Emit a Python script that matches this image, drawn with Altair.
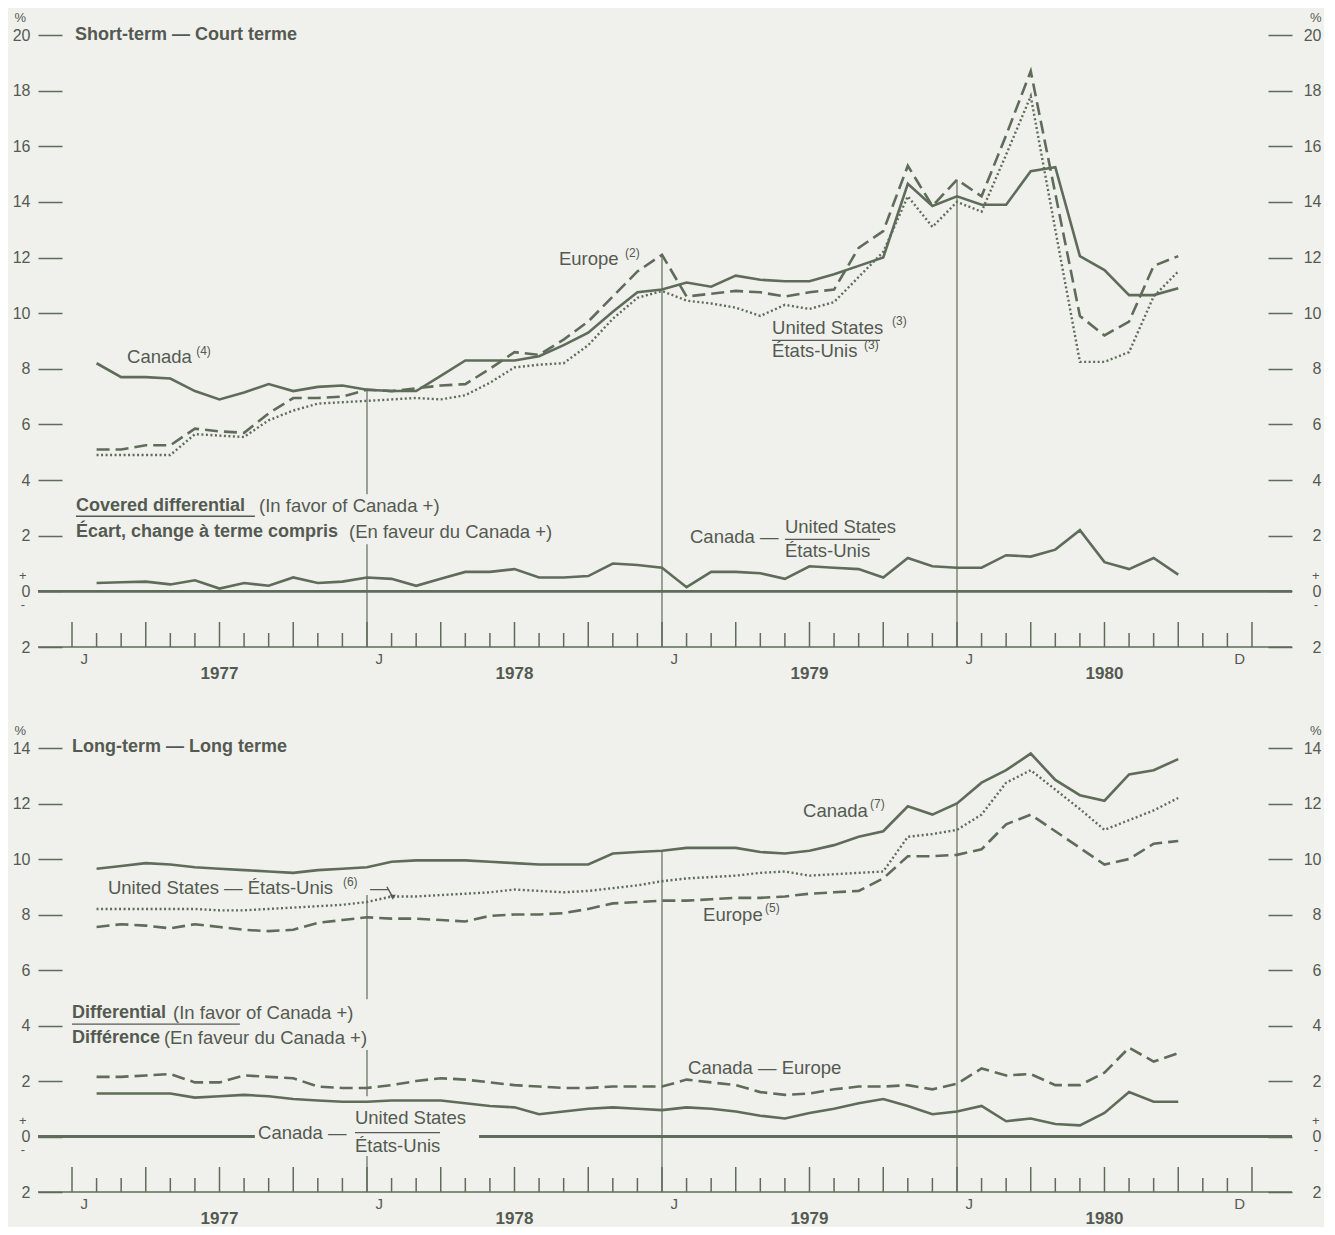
import altair as alt
import pandas as pd

FONT = "Liberation Sans"
LINE = "#5e6c59"
TXT = "#545a52"
BG = "#f0f1ec"

W = 1254
H_TOP = 612
H_BOT = 444
X_DOMAIN = [-1.383, 49.628]   # month index; 0 = start of Jan 1977

# ---------------- data (month-end values, m = 1 .. 45 : Jan 1977 .. Sep 1980) ----------------
months = list(range(1, 46))

st_canada = [8.2, 7.7, 7.7, 7.65, 7.2, 6.9, 7.15, 7.45, 7.2, 7.35, 7.4, 7.25,
             7.2, 7.2, 7.75, 8.3, 8.3, 8.3, 8.45, 8.85, 9.3, 10.05, 10.75, 10.85,
             11.1, 10.95, 11.35, 11.2, 11.15, 11.15, 11.4, 11.7, 12.0, 14.65, 13.85, 14.2,
             13.9, 13.9, 15.1, 15.25, 12.05, 11.55, 10.65, 10.65, 10.9]
st_europe = [5.1, 5.1, 5.25, 5.25, 5.85, 5.75, 5.7, 6.4, 6.95, 6.95, 7.0, 7.25,
             7.2, 7.3, 7.4, 7.45, 8.0, 8.6, 8.5, 9.05, 9.7, 10.6, 11.5, 12.1,
             10.6, 10.7, 10.8, 10.75, 10.6, 10.75, 10.85, 12.35, 12.95, 15.3, 13.85, 14.8,
             14.2, 16.4, 18.7, 14.3, 9.9, 9.2, 9.7, 11.7, 12.05]
st_us = [4.9, 4.9, 4.9, 4.9, 5.65, 5.6, 5.55, 6.15, 6.5, 6.75, 6.8, 6.85,
         6.9, 6.95, 6.9, 7.05, 7.5, 8.05, 8.15, 8.2, 8.85, 9.8, 10.55, 10.8,
         10.45, 10.35, 10.2, 9.9, 10.3, 10.15, 10.4, 11.3, 12.2, 14.2, 13.1, 14.0,
         13.65, 15.7, 17.8, 13.0, 8.25, 8.25, 8.6, 10.6, 11.5]
st_covered = [0.3, 0.33, 0.35, 0.25, 0.4, 0.1, 0.3, 0.2, 0.5, 0.3, 0.35, 0.5,
              0.45, 0.2, 0.45, 0.7, 0.7, 0.8, 0.5, 0.5, 0.55, 1.0, 0.95, 0.85,
              0.15, 0.7, 0.7, 0.65, 0.45, 0.9, 0.85, 0.8, 0.5, 1.2, 0.9, 0.85,
              0.85, 1.3, 1.25, 1.5, 2.2, 1.05, 0.8, 1.2, 0.6]

lt_canada = [9.65, 9.75, 9.85, 9.8, 9.7, 9.65, 9.6, 9.55, 9.5, 9.6, 9.65, 9.7,
             9.9, 9.95, 9.95, 9.95, 9.9, 9.85, 9.8, 9.8, 9.8, 10.2, 10.25, 10.3,
             10.4, 10.4, 10.4, 10.25, 10.2, 10.3, 10.5, 10.8, 11.0, 11.9, 11.6, 12.0,
             12.75, 13.2, 13.8, 12.85, 12.3, 12.1, 13.05, 13.2, 13.6]
lt_us = [8.2, 8.2, 8.2, 8.2, 8.2, 8.15, 8.15, 8.2, 8.25, 8.3, 8.35, 8.45,
         8.65, 8.65, 8.7, 8.75, 8.8, 8.9, 8.85, 8.8, 8.85, 8.95, 9.05, 9.2,
         9.3, 9.35, 9.4, 9.5, 9.55, 9.4, 9.45, 9.5, 9.55, 10.8, 10.9, 11.05,
         11.6, 12.75, 13.2, 12.5, 11.8, 11.05, 11.4, 11.75, 12.2]
lt_europe = [7.55, 7.65, 7.6, 7.5, 7.65, 7.55, 7.45, 7.4, 7.45, 7.7, 7.8, 7.9,
             7.85, 7.85, 7.8, 7.75, 7.95, 8.0, 8.0, 8.05, 8.2, 8.4, 8.45, 8.5,
             8.5, 8.55, 8.6, 8.6, 8.65, 8.75, 8.8, 8.85, 9.3, 10.1, 10.1, 10.15,
             10.35, 11.25, 11.6, 11.0, 10.4, 9.8, 10.0, 10.55, 10.65]
lt_diff_europe = [2.15, 2.15, 2.2, 2.25, 1.95, 1.95, 2.2, 2.15, 2.1, 1.8, 1.75, 1.75,
                  1.85, 2.0, 2.1, 2.05, 1.95, 1.85, 1.8, 1.75, 1.75, 1.8, 1.8, 1.8,
                  2.05, 1.95, 1.85, 1.6, 1.5, 1.55, 1.7, 1.8, 1.8, 1.85, 1.7, 1.9,
                  2.45, 2.2, 2.25, 1.85, 1.85, 2.3, 3.2, 2.7, 3.0]
lt_diff_us = [1.55, 1.55, 1.55, 1.55, 1.4, 1.45, 1.5, 1.45, 1.35, 1.3, 1.25, 1.25,
              1.3, 1.3, 1.3, 1.2, 1.1, 1.05, 0.8, 0.9, 1.0, 1.05, 1.0, 0.95,
              1.05, 1.0, 0.9, 0.75, 0.65, 0.85, 1.0, 1.2, 1.35, 1.1, 0.8, 0.9,
              1.1, 0.55, 0.65, 0.45, 0.4, 0.85, 1.6, 1.25, 1.25]

# axis / label arrays
tick_months = list(range(0, 49))
letter_pos = [0.5, 12.5, 24.5, 36.5, 47.5]
letter_text = ["J", "J", "J", "J", "D"]
year_pos = [6, 18, 30, 42]
year_text = ["1977", "1978", "1979", "1980"]

# annotations (m, value, text)
top_regular = [(19.81, 11.93, "Europe"), (2.24, 8.41, "Canada"),
               (28.48, 9.45, "United States"), (28.48, 8.63, "États-Unis"),
               (7.61, 3.06, "(In favor of Canada +)"), (11.27, 2.12, "(En faveur du Canada +)"),
               (25.14, 1.94, "Canada —"), (29.0, 2.30, "United States"), (29.0, 1.44, "États-Unis")]
top_sup = [(22.5, 12.15, "(2)"), (5.05, 8.63, "(4)"), (33.36, 9.71, "(3)"), (32.22, 8.84, "(3)")]
top_bold = [(0.12, 20.0, "Short-term — Court terme"), (0.16, 3.06, "Covered differential"),
            (0.16, 2.12, "Écart, change à terme compris")]
top_under = [(28.48, 32.87, 9.02), (0.16, 7.44, 2.70), (29.0, 32.87, 1.87)]
top_vref = [(12, 7.25, 3.49), (12, 1.69, -2), (24, 12.1, -2), (36, 14.8, -2)]
top_zero = [(-1.383, 49.628)]

bot_regular = [(29.74, 11.73, "Canada"), (1.46, 8.97, "United States — États-Unis"),
               (12.12, 8.97, "—"), (25.67, 8.0, "Europe"),
               (4.11, 4.45, "(In favor of Canada +)"), (3.74, 3.55, "(En faveur du Canada +)"),
               (25.06, 2.48, "Canada — Europe"), (7.57, 0.11, "Canada —"),
               (11.51, 0.68, "United States"), (11.51, -0.36, "États-Unis")]
bot_sup = [(32.46, 11.98, "(7)"), (11.02, 9.18, "(6)"), (28.19, 8.22, "(5)")]
bot_bold = [(0.0, 14.05, "Long-term — Long terme"), (0.0, 4.45, "Differential"),
            (0.0, 3.55, "Différence")]
bot_under = [(0.0, 6.83, 4.05), (11.51, 14.97, 0.14)]
bot_vref = [(12, 8.7, 4.95), (12, 3.12, 1.45), (12, -0.7, -2), (24, 10.3, -2), (36, 12.0, -2)]
bot_zero = [(-1.383, 7.44), (16.56, 49.628)]
bot_arrow = [(12.81, 9.0), (13.05, 8.62)]

xscale = alt.Scale(domain=X_DOMAIN, nice=False, zero=False)


def X(field="m"):
    return alt.X(f"{field}:Q", scale=xscale, axis=None)


def axis(orient, ymax):
    common = dict(values=list(range(-2, ymax + 1, 2)), labelExpr="abs(datum.value)",
                  tickSize=24, offset=-24, domain=False, grid=False, title=None,
                  labelFont=FONT, labelFontSize=16, labelColor=TXT, tickColor=LINE,
                  tickWidth=1.5, labelFlush=False, labelOverlap=False)
    if orient == "left":
        return alt.Axis(orient="left", labelPadding=8, **common)
    return alt.Axis(orient="right", labelPadding=29, labelAlign="right", **common)


def text_layer(rows, ysc, size, weight="normal"):
    df = pd.DataFrame(rows, columns=["m", "v", "t"])
    return alt.Chart(df).mark_text(align="left", baseline="middle", font=FONT,
                                   fontSize=size, fontWeight=weight, color=TXT).encode(
        x=X(), y=alt.Y("v:Q", scale=ysc, axis=None), text="t:N")


def make_panel(ymax, H, lines, vrefs, zeros, regular, sup, bold, under,
               jd_off, yr_off, arrow=None):
    def ysc():
        return alt.Scale(domain=[-2, ymax], nice=False, zero=False)
    sc = ysc()
    layers = []
    for vals, dash, width in lines:
        df = pd.DataFrame({"m": months, "v": vals})
        kw = dict(color=LINE, strokeWidth=width)
        if dash:
            kw["strokeDash"] = dash
        layers.append(alt.Chart(df).mark_line(**kw).encode(
            x=X(), y=alt.Y("v:Q", scale=sc, axis=None)))

    zdf = pd.DataFrame(zeros, columns=["m", "m2"]).assign(z=0)
    layers.append(alt.Chart(zdf).mark_rule(color=LINE, strokeWidth=2.8).encode(
        x=X(), x2="m2:Q", y=alt.Y("z:Q", scale=sc, axis=None)))

    adf = pd.DataFrame({"z": [-2]})
    layers.append(alt.Chart(adf).mark_rule(color=LINE, strokeWidth=1.5).encode(
        x=alt.value(0), x2=alt.value(W), y=alt.Y("z:Q", scale=sc, axis=None)))

    tdf = pd.DataFrame({"m": tick_months})
    layers.append(alt.Chart(tdf).transform_filter("datum.m % 3 == 0").mark_rule(
        color=LINE, strokeWidth=1.5).encode(x=X(), y=alt.value(H), y2=alt.value(H - 25)))
    layers.append(alt.Chart(tdf).transform_filter("datum.m % 3 != 0").mark_rule(
        color=LINE, strokeWidth=1.5).encode(x=X(), y=alt.value(H), y2=alt.value(H - 14)))

    vdf = pd.DataFrame(vrefs, columns=["m", "top", "bot"])
    layers.append(alt.Chart(vdf).mark_rule(color=LINE, strokeWidth=1.2).encode(
        x=X(), y=alt.Y("top:Q", scale=sc, axis=None), y2="bot:Q"))

    udf = pd.DataFrame(under, columns=["m", "m2", "v"])
    layers.append(alt.Chart(udf).mark_rule(color=TXT, strokeWidth=1.3).encode(
        x=X(), x2="m2:Q", y=alt.Y("v:Q", scale=sc, axis=None)))

    if arrow:
        ardf = pd.DataFrame(arrow, columns=["m", "v"])
        layers.append(alt.Chart(ardf).mark_line(color=TXT, strokeWidth=1.4).encode(
            x=X(), y=alt.Y("v:Q", scale=sc, axis=None)))
        layers.append(alt.Chart(ardf.tail(1)).mark_point(
            shape="triangle-down", filled=True, size=35, color=TXT, opacity=1).encode(
            x=X(), y=alt.Y("v:Q", scale=sc, axis=None)))

    layers.append(text_layer(regular, sc, 18.5))
    layers.append(text_layer(sup, sc, 12))
    layers.append(text_layer(bold, sc, 18, "bold"))

    ldf = pd.DataFrame({"m": letter_pos, "t": letter_text})
    layers.append(alt.Chart(ldf).mark_text(font=FONT, fontSize=15, color=TXT,
                                           baseline="middle").encode(
        x=X(), y=alt.value(H + jd_off), text="t:N"))
    ydf = pd.DataFrame({"m": year_pos, "t": year_text})
    layers.append(alt.Chart(ydf).mark_text(font=FONT, fontSize=17, fontWeight="bold",
                                           color=TXT, baseline="middle").encode(
        x=X(), y=alt.value(H + yr_off), text="t:N"))

    inner = alt.layer(*layers)

    side_left = pd.DataFrame({"m": [-2.1, -2.0, -2.0], "v": [ymax + 0.6, 0.55, -0.5],
                              "t": ["%", "+", "-"]})
    left = alt.Chart(side_left).mark_text(font=FONT, fontSize=13, color=TXT,
                                          baseline="middle").encode(
        x=X(), y=alt.Y("v:Q", scale=ysc(), axis=axis("left", ymax)), text="t:N")

    side_right = pd.DataFrame({"m": [50.6, 50.6, 50.6], "v": [ymax + 0.6, 0.55, -0.5],
                               "t": ["%", "+", "-"]})
    right = alt.Chart(side_right).mark_text(font=FONT, fontSize=13, color=TXT,
                                            baseline="middle").encode(
        x=X(), y=alt.Y("v:Q", scale=ysc(), axis=axis("right", ymax)), text="t:N")

    return alt.layer(inner, left, right).resolve_scale(y="independent").properties(
        width=W, height=H)


top = make_panel(20, H_TOP,
                 [(st_canada, None, 2.6), (st_europe, [13, 6], 2.6), (st_us, [2, 2.5], 2.4),
                  (st_covered, None, 2.6)],
                 top_vref, top_zero, top_regular, top_sup, top_bold, top_under, 12, 27)
bottom = make_panel(14, H_BOT,
                    [(lt_canada, None, 2.6), (lt_us, [2, 2.5], 2.4), (lt_europe, [13, 6], 2.6),
                     (lt_diff_europe, [13, 6], 2.6), (lt_diff_us, None, 2.6)],
                    bot_vref, bot_zero, bot_regular, bot_sup, bot_bold, bot_under, 12, 27,
                    arrow=bot_arrow)

chart = alt.vconcat(top, bottom, spacing=101, bounds="flush").properties(
    background=BG, padding={"left": 4, "top": 4, "right": 2, "bottom": 0}
).configure_view(stroke=None)

chart.save("out.html", embed_options={"renderer": "svg", "actions": False})
